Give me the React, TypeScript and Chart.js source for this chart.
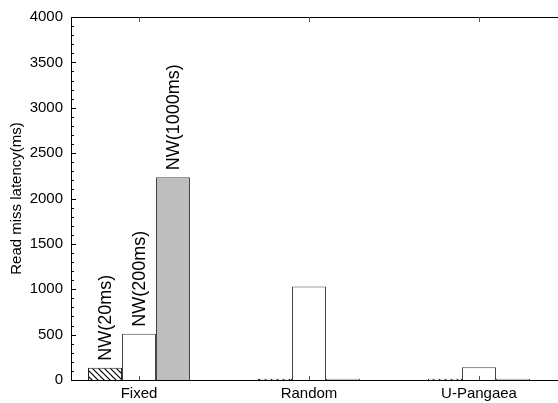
import React, { useEffect, useRef } from 'react';
import { Chart, registerables } from 'chart.js';

Chart.register(...registerables);

const categories = ['Fixed', 'Random', 'U-Pangaea'];
const seriesLabels = ['NW(20ms)', 'NW(200ms)', 'NW(1000ms)'];
const nw20 = [135, 15, 15];
const nw200 = [510, 1030, 140];
const nw1000 = [2235, 15, 15];
const yMin = 0;
const yMax = 4000;
const yStep = 500;
const yMinorStep = 100;
const annotatedCategory = 'Fixed';
const yTitle = 'Read miss latency(ms)';

const FONT = '"Liberation Sans", Arial, Helvetica, sans-serif';

function makeHatch(): CanvasPattern | string {
  const c = document.createElement('canvas');
  c.width = 6;
  c.height = 6;
  const g = c.getContext('2d');
  if (!g) return '#fff';
  g.fillStyle = '#fff';
  g.fillRect(0, 0, 6, 6);
  g.strokeStyle = '#000';
  g.lineWidth = 1.2;
  g.beginPath();
  g.moveTo(-1, -1);
  g.lineTo(7, 7);
  g.moveTo(-1, 5);
  g.lineTo(1, 7);
  g.moveTo(5, -1);
  g.lineTo(7, 1);
  g.stroke();
  return g.createPattern(c, 'repeat') || '#fff';
}

const framePlugin = {
  id: 'frame',
  afterDraw(chart: any) {
    const { ctx, chartArea } = chart;
    const { left, right, top, bottom } = chartArea;
    const x = chart.scales.x;
    const y = chart.scales.y;
    ctx.save();
    ctx.strokeStyle = '#000';
    ctx.lineWidth = 1;
    const line = (x1: number, y1: number, x2: number, y2: number) => {
      ctx.beginPath();
      ctx.moveTo(x1, y1);
      ctx.lineTo(x2, y2);
      ctx.stroke();
    };
    line(left, Math.round(top) + 0.5, right, Math.round(top) + 0.5);
    for (let v = y.min; v <= y.max + 1e-6; v += yMinorStep) {
      const py = Math.round(y.getPixelForValue(v)) + 0.5;
      const len = v % yStep === 0 ? 5 : 3;
      line(left, py, left + len, py);
    }
    ctx.strokeStyle = '#555';
    x.ticks.forEach((t: any) => {
      const px = Math.round(x.getPixelForValue(t.value)) + 0.5;
      line(px, bottom, px, bottom - 4);
      line(px, top, px, top + 5);
    });
    ctx.restore();
  },
};

const labelPlugin = {
  id: 'barLabels',
  afterDatasetsDraw(chart: any) {
    const idx = categories.indexOf(annotatedCategory);
    const { ctx } = chart;
    chart.data.datasets.forEach((ds: any, i: number) => {
      const el = chart.getDatasetMeta(i).data[idx];
      if (!el) return;
      ctx.save();
      ctx.translate(el.x + 1, el.y - 7);
      ctx.rotate(-Math.PI / 2);
      ctx.font = `18px ${FONT}`;
      ctx.textAlign = 'left';
      ctx.textBaseline = 'middle';
      ctx.fillStyle = '#000';
      ctx.fillText(ds.label, 0, 0);
      ctx.restore();
    });
  },
};

export default function App() {
  const ref = useRef<HTMLCanvasElement | null>(null);

  useEffect(() => {
    document.body.style.margin = '0';
    const canvas = ref.current;
    if (!canvas) return;
    const toPts = (arr: number[]) => arr.map((v, i) => ({ x: i, y: v }));
    const font = { family: FONT, size: 15 };
    const chart = new Chart(canvas, {
      type: 'bar',
      data: {
        datasets: [
          {
            label: seriesLabels[0],
            data: toPts(nw20),
            backgroundColor: makeHatch() as any,
            borderColor: '#222',
            borderWidth: 1,
          },
          {
            label: seriesLabels[1],
            data: toPts(nw200),
            backgroundColor: '#ffffff',
            borderColor: '#444',
            borderWidth: 1,
          },
          {
            label: seriesLabels[2],
            data: toPts(nw1000),
            backgroundColor: '#bebebe',
            borderColor: '#444',
            borderWidth: 1,
          },
        ],
      },
      options: {
        responsive: false,
        animation: false,
        categoryPercentage: 0.6,
        barPercentage: 1.0,
        layout: { padding: { top: 14, right: 0, left: 0, bottom: 0 } },
        plugins: {
          legend: { display: false },
          tooltip: { enabled: false },
        },
        scales: {
          x: {
            type: 'linear',
            offset: false,
            min: -0.4,
            max: 2.4647,
            grid: { display: false, drawTicks: false, offset: false },
            border: { display: true, color: '#000', width: 1 },
            afterBuildTicks: (s: any) => {
              s.ticks = categories.map((_, i) => ({ value: i }));
            },
            ticks: {
              callback: (v: any) => categories[Number(v)] ?? '',
              font,
              color: '#000',
              padding: 5,
              autoSkip: false,
              maxRotation: 0,
            },
            afterFit: (s: any) => {
              s.height = 23;
            },
          },
          y: {
            min: yMin,
            max: yMax,
            grid: { display: false, drawTicks: false },
            border: { display: true, color: '#000', width: 1 },
            ticks: {
              stepSize: yStep,
              font,
              color: '#000',
              padding: 8,
              callback: (v: any) => String(v),
            },
            title: {
              display: true,
              text: yTitle,
              font,
              color: '#000',
              padding: { top: 8, bottom: 0 },
            },
            afterFit: (s: any) => {
              s.width = 71;
            },
          },
        },
      },
      plugins: [labelPlugin, framePlugin],
    });
    return () => chart.destroy();
  }, []);

  return (
    <div style={{ width: 558, height: 403 }}>
      <canvas ref={ref} width={558} height={403} style={{ display: 'block' }} />
    </div>
  );
}
